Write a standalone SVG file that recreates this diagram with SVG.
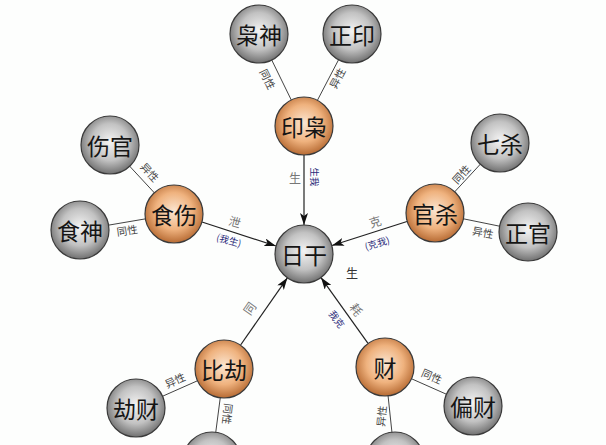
<svg xmlns="http://www.w3.org/2000/svg" width="606" height="445" viewBox="0 0 606 445">
<style>
.node circle{stroke:#3a3a3a;stroke-width:1.2}
.g{fill:url(#gray)}
.o{fill:url(#orange)}
.nt{font-family:"Noto Sans CJK SC","Noto Sans CJK TC",sans-serif;font-size:23px;fill:#151515;text-anchor:middle;dominant-baseline:central}
.link{stroke:#444;stroke-width:1;fill:none}
.arrow{stroke:#222;stroke-width:1.2;fill:none;marker-end:url(#ah)}
.el{font-family:"Noto Sans CJK SC",sans-serif;font-size:10.5px;fill:#444;text-anchor:middle;dominant-baseline:central}
.al{font-family:"Noto Sans CJK SC",sans-serif;font-size:12px;fill:#777;text-anchor:middle;dominant-baseline:central}
.bl{font-family:"Noto Sans CJK SC",sans-serif;font-size:9.5px;fill:#2a2a7a;text-anchor:middle;dominant-baseline:central}
</style>
<defs>
<radialGradient id="gray" cx="50%" cy="45%" r="58%">
<stop offset="0%" stop-color="#f4f4f4"/>
<stop offset="55%" stop-color="#c2c2c2"/>
<stop offset="100%" stop-color="#666"/>
</radialGradient>
<radialGradient id="orange" cx="50%" cy="45%" r="58%">
<stop offset="0%" stop-color="#fbe6d2"/>
<stop offset="55%" stop-color="#efb27e"/>
<stop offset="100%" stop-color="#b0622a"/>
</radialGradient>
<marker id="ah" viewBox="0 0 12 8" refX="12" refY="4" markerWidth="12" markerHeight="8" markerUnits="userSpaceOnUse" orient="auto">
<path d="M0,0 L12,4 L0,8 L3,4 z" fill="#111"/>
</marker>
</defs>
<rect width="606" height="445" fill="#fdfefd"/>

<g id="connectors">
<line class="link" x1="259" y1="34" x2="304" y2="126"/>
<line class="link" x1="352" y1="34" x2="304" y2="126"/>
<line class="link" x1="110" y1="145" x2="174" y2="214"/>
<line class="link" x1="80" y1="230" x2="174" y2="214"/>
<line class="link" x1="500" y1="143" x2="435" y2="213"/>
<line class="link" x1="528" y1="232" x2="435" y2="213"/>
<line class="link" x1="136" y1="408" x2="224" y2="369"/>
<line class="link" x1="212" y1="461" x2="224" y2="369"/>
<line class="link" x1="473" y1="406" x2="385" y2="367"/>
<line class="link" x1="395" y1="461" x2="385" y2="367"/>
<line class="arrow" x1="304" y1="155" x2="304" y2="225"/>
<line class="arrow" x1="202" y1="222" x2="276" y2="246"/>
<line class="arrow" x1="407" y1="221.5" x2="332" y2="245.5"/>
<line class="arrow" x1="240.6" y1="345" x2="287.4" y2="277.8"/>
<line class="arrow" x1="368" y1="343.4" x2="321" y2="277.6"/>

<text class="el" transform="translate(268,79) rotate(64)">同性</text>
<text class="el" transform="translate(337,78) rotate(-62)">异性</text>
<text class="el" transform="translate(150,172) rotate(48)">异性</text>
<text class="el" transform="translate(127,230) rotate(-8)">同性</text>
<text class="el" transform="translate(461,174) rotate(-47)">同性</text>
<text class="el" transform="translate(483,232) rotate(11)">异性</text>
<text class="el" transform="translate(175,380) rotate(-24)">异性</text>
<text class="el" transform="translate(228,414) rotate(97)">同性</text>
<text class="el" transform="translate(432,376) rotate(24)">同性</text>
<text class="el" transform="translate(381,416) rotate(-84)">异性</text>

<text class="al" x="295" y="177">生</text>
<text class="bl" transform="translate(315,177) rotate(90)">生我</text>
<text class="al" transform="translate(235,221) rotate(16)">泄</text>
<text class="bl" transform="translate(229,240) rotate(16)">(我生)</text>
<text class="al" transform="translate(375,221) rotate(-17)">克</text>
<text class="bl" transform="translate(377,243) rotate(-17)">(克我)</text>
<text class="al" transform="translate(249,308) rotate(-55)">同</text>
<text class="al" transform="translate(357,309) rotate(54)">耗</text>
<text class="bl" transform="translate(337,319) rotate(54)">我克</text>
<text class="al" x="352" y="272" style="fill:#333">生</text>
</g>

<g id="rigan" class="node"><circle class="g" cx="304" cy="254" r="29"/><text class="nt" x="304" y="254">日干</text></g>
<g id="yinxiao" class="node"><circle class="o" cx="304" cy="126" r="29"/><text class="nt" x="304" y="126">印枭</text></g>
<g id="xiaoshen" class="node"><circle class="g" cx="259" cy="34" r="29"/><text class="nt" x="259" y="34">枭神</text></g>
<g id="zhengyin" class="node"><circle class="g" cx="352" cy="34" r="29"/><text class="nt" x="352" y="34">正印</text></g>
<g id="shishang" class="node"><circle class="o" cx="174" cy="214" r="29"/><text class="nt" x="174" y="214">食伤</text></g>
<g id="shangguan" class="node"><circle class="g" cx="110" cy="145" r="29"/><text class="nt" x="110" y="145">伤官</text></g>
<g id="shishen" class="node"><circle class="g" cx="80" cy="230" r="29"/><text class="nt" x="80" y="230">食神</text></g>
<g id="guansha" class="node"><circle class="o" cx="435" cy="213" r="29"/><text class="nt" x="435" y="213">官杀</text></g>
<g id="qisha" class="node"><circle class="g" cx="500" cy="143" r="29"/><text class="nt" x="500" y="143">七杀</text></g>
<g id="zhengguan" class="node"><circle class="g" cx="528" cy="232" r="29"/><text class="nt" x="528" y="232">正官</text></g>
<g id="bijie" class="node"><circle class="o" cx="224" cy="369" r="29"/><text class="nt" x="224" y="369">比劫</text></g>
<g id="jiecai" class="node"><circle class="g" cx="136" cy="408" r="29"/><text class="nt" x="136" y="408">劫财</text></g>
<g id="bottom-left" class="node"><circle class="g" cx="212" cy="461" r="29"/></g>
<g id="cai" class="node"><circle class="o" cx="385" cy="367" r="29"/><text class="nt" x="385" y="367">财</text></g>
<g id="piancai" class="node"><circle class="g" cx="473" cy="406" r="29"/><text class="nt" x="473" y="406">偏财</text></g>
<g id="bottom-right" class="node"><circle class="g" cx="395" cy="461" r="29"/></g>
</svg>
